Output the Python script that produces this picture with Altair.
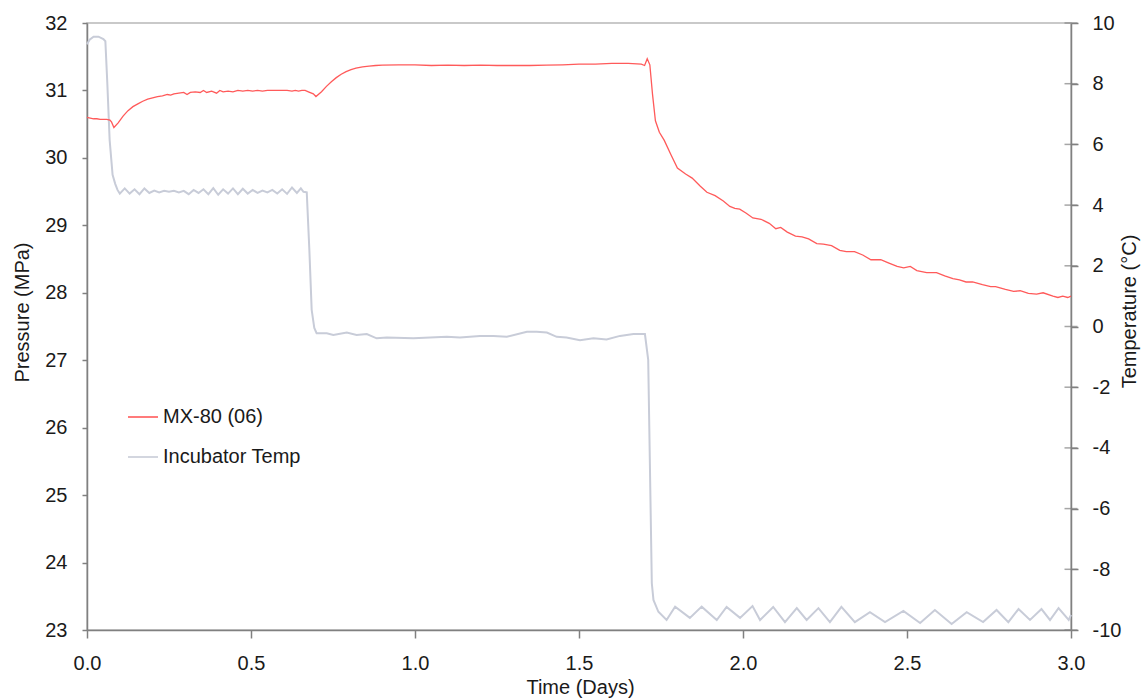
import altair as alt
import pandas as pd

# ---- Pressure series (MX-80 (06)), left axis, MPa ----
pressure_days = [
    0.000, 0.010, 0.020, 0.030, 0.040, 0.050, 0.060, 0.070, 0.075, 0.082,
    0.095, 0.110, 0.125, 0.140, 0.155, 0.170, 0.185, 0.200, 0.215, 0.230,
    0.245, 0.255, 0.265, 0.280, 0.295, 0.305, 0.315, 0.330, 0.345, 0.355,
    0.365, 0.380, 0.395, 0.405, 0.415, 0.430, 0.445, 0.460, 0.475, 0.490,
    0.505, 0.520, 0.535, 0.550, 0.570, 0.590, 0.610, 0.625, 0.635, 0.645,
    0.655, 0.665, 0.675, 0.690, 0.698, 0.715, 0.730, 0.745, 0.760, 0.775,
    0.790, 0.805, 0.820, 0.840, 0.860, 0.880, 0.900, 0.950, 1.000, 1.050,
    1.100, 1.150, 1.200, 1.250, 1.300, 1.350, 1.400, 1.450, 1.500, 1.550,
    1.600, 1.650, 1.690, 1.700, 1.708, 1.716, 1.724, 1.733, 1.745, 1.760,
    1.780, 1.800, 1.825, 1.845, 1.870, 1.890, 1.915, 1.940, 1.960, 1.975,
    1.990, 2.010, 2.030, 2.055, 2.080, 2.100, 2.115, 2.135, 2.160, 2.180,
    2.200, 2.225, 2.245, 2.270, 2.295, 2.315, 2.340, 2.365, 2.390, 2.420,
    2.445, 2.470, 2.490, 2.510, 2.530, 2.560, 2.590, 2.615, 2.640, 2.660,
    2.680, 2.700, 2.730, 2.755, 2.770, 2.800, 2.825, 2.845, 2.870, 2.895,
    2.915, 2.945, 2.960, 2.975, 2.990, 3.000,
]
pressure_mpa = [
    30.60, 30.59, 30.58, 30.58, 30.57, 30.57, 30.57, 30.56, 30.53, 30.45,
    30.52, 30.62, 30.70, 30.76, 30.80, 30.84, 30.87, 30.89, 30.91, 30.92,
    30.94, 30.93, 30.95, 30.96, 30.97, 30.94, 30.97, 30.98, 30.97, 31.00,
    30.97, 30.99, 30.96, 31.00, 30.98, 30.99, 30.98, 31.00, 30.99, 31.00,
    30.99, 31.00, 30.99, 31.00, 31.00, 31.00, 31.00, 30.99, 31.00, 30.99,
    31.00, 31.00, 30.98, 30.95, 30.91, 30.98, 31.06, 31.13, 31.19, 31.24,
    31.28, 31.31, 31.33, 31.35, 31.36, 31.37, 31.375, 31.38, 31.38, 31.37,
    31.375, 31.37, 31.375, 31.37, 31.37, 31.37, 31.375, 31.38, 31.39, 31.39,
    31.40, 31.40, 31.39, 31.37, 31.47, 31.38, 30.95, 30.55, 30.38, 30.26,
    30.05, 29.85, 29.76, 29.70, 29.58, 29.49, 29.44, 29.36, 29.28, 29.25,
    29.24, 29.18, 29.11, 29.09, 29.03, 28.95, 28.97, 28.90, 28.84, 28.83,
    28.80, 28.73, 28.72, 28.70, 28.63, 28.61, 28.61, 28.56, 28.49, 28.49,
    28.44, 28.39, 28.37, 28.39, 28.33, 28.30, 28.30, 28.25, 28.21, 28.19,
    28.16, 28.16, 28.12, 28.09, 28.09, 28.05, 28.02, 28.03, 27.99, 27.98,
    28.00, 27.95, 27.93, 27.95, 27.93, 27.95,
]

# ---- Incubator temperature, right axis, degC ----
temp_days = [
    0.000, 0.008, 0.020, 0.035, 0.050, 0.056, 0.062, 0.069, 0.078, 0.086,
    0.093, 0.100, 0.115, 0.130, 0.145, 0.160, 0.175, 0.190, 0.205, 0.220,
    0.235, 0.250, 0.265, 0.280, 0.295, 0.310, 0.325, 0.340, 0.355, 0.370,
    0.385, 0.400, 0.415, 0.430, 0.445, 0.460, 0.475, 0.490, 0.505, 0.520,
    0.535, 0.550, 0.565, 0.580, 0.595, 0.610, 0.625, 0.640, 0.652, 0.660,
    0.670, 0.678, 0.685, 0.693, 0.700, 0.731, 0.751, 0.792, 0.822, 0.853,
    0.883, 0.914, 0.995, 1.097, 1.137, 1.198, 1.239, 1.280, 1.341, 1.371,
    1.402, 1.432, 1.462, 1.503, 1.544, 1.584, 1.625, 1.666, 1.696, 1.701,
    1.711, 1.722, 1.727, 1.742, 1.767, 1.793, 1.838, 1.874, 1.920, 1.950,
    1.991, 2.029, 2.052, 2.092, 2.128, 2.164, 2.194, 2.230, 2.265, 2.300,
    2.341, 2.387, 2.433, 2.489, 2.540, 2.585, 2.636, 2.682, 2.732, 2.773,
    2.809, 2.840, 2.875, 2.910, 2.936, 2.962, 2.993, 3.000,
]
temp_c = [
    9.30, 9.45, 9.55, 9.55, 9.47, 9.40, 8.00, 6.15, 5.00, 4.70,
    4.50, 4.38, 4.55, 4.38, 4.52, 4.36, 4.55, 4.40, 4.48, 4.42,
    4.47, 4.44, 4.47, 4.42, 4.47, 4.36, 4.50, 4.40, 4.52, 4.36,
    4.56, 4.34, 4.52, 4.38, 4.55, 4.36, 4.54, 4.38, 4.50, 4.40,
    4.48, 4.42, 4.50, 4.38, 4.52, 4.37, 4.58, 4.40, 4.55, 4.44,
    4.42, 2.50, 0.55, -0.05, -0.22, -0.22, -0.28, -0.20, -0.28, -0.25,
    -0.39, -0.36, -0.39, -0.34, -0.36, -0.31, -0.31, -0.34, -0.17, -0.17,
    -0.20, -0.34, -0.36, -0.45, -0.39, -0.43, -0.31, -0.25, -0.25, -0.25,
    -1.10, -8.46, -9.01, -9.40, -9.67, -9.23, -9.60, -9.23, -9.67, -9.24,
    -9.60, -9.21, -9.67, -9.24, -9.74, -9.28, -9.67, -9.28, -9.74, -9.24,
    -9.74, -9.41, -9.74, -9.37, -9.77, -9.34, -9.80, -9.41, -9.74, -9.34,
    -9.74, -9.31, -9.67, -9.31, -9.67, -9.28, -9.67, -9.50,
]

# ---- axis tick values ----
x_ticks = [0, 0.5, 1, 1.5, 2, 2.5, 3]
pressure_ticks = [23, 24, 25, 26, 27, 28, 29, 30, 31, 32]
temp_ticks = [-10, -8, -6, -4, -2, 0, 2, 4, 6, 8, 10]

series_names = ["MX-80 (06)", "Incubator Temp"]
series_colors = ["#ff5a5a", "#c8ccd8"]

pressure_df = pd.DataFrame({"day": pressure_days, "value": pressure_mpa, "series": series_names[0]})
temp_df = pd.DataFrame({"day": temp_days, "value": temp_c, "series": series_names[1]})
temp_tick_df = pd.DataFrame({"value": temp_ticks})

FONT = "Liberation Sans"
AXIS_GRAY = "#808080"
PLOT_W, PLOT_H = 984, 607

color = alt.Color(
    "series:N",
    scale=alt.Scale(domain=series_names, range=series_colors),
    legend=alt.Legend(
        title=None,
        orient="none",
        legendX=40,
        legendY=378,
        symbolType="stroke",
        symbolSize=900,
        symbolStrokeWidth=1.6,
        labelFontSize=20,
        labelFont=FONT,
        labelColor="#1a1a1a",
        labelOffset=4,
        rowPadding=14,
        padding=0,
    ),
)

x_enc = alt.X(
    "day:Q",
    scale=alt.Scale(domain=[0, 3], nice=False),
    axis=alt.Axis(
        title="Time (Days)",
        values=x_ticks,
        format=".1f",
        tickSize=8,
        labelPadding=15,
        labelFlush=False,
        titleX=493,
        titleY=63,
        titleBaseline="alphabetic",
    ),
)

temp_y = alt.Y(
    "value:Q",
    scale=alt.Scale(domain=[-10, 10], nice=False),
    axis=alt.Axis(
        orient="right",
        title="Temperature (°C)",
        values=temp_ticks,
        labelExpr="'' + datum.value",
        tickSize=7,
        labelPadding=14,
        labelFlush=False,
        titleX=64,
        titleY=288,
        titleAngle=270,
        titleBaseline="alphabetic",
    ),
)

temp_line = alt.Chart(temp_df).mark_line(strokeWidth=2).encode(
    x=x_enc,
    y=temp_y,
    color=color,
    order=alt.Order("day:Q"),
)

# inner half of the crossing ticks on the right axis
temp_cross_ticks = alt.Chart(temp_tick_df).mark_tick(
    orient="horizontal", size=13, thickness=1.5, color=AXIS_GRAY
).encode(
    x=alt.value(PLOT_W),
    y=temp_y,
)

temp_layer = alt.layer(temp_line, temp_cross_ticks)

pressure_layer = alt.Chart(pressure_df).mark_line(strokeWidth=1.3).encode(
    x=x_enc,
    y=alt.Y(
        "value:Q",
        scale=alt.Scale(domain=[23, 32], nice=False),
        axis=alt.Axis(
            orient="left",
            title="Pressure (MPa)",
            values=pressure_ticks,
            tickSize=5,
            labelPadding=15,
            labelFlush=False,
            titleX=-59,
            titleY=289,
            titleAngle=270,
            titleBaseline="alphabetic",
        ),
    ),
    color=color,
    order=alt.Order("day:Q"),
)

chart = (
    alt.layer(temp_layer, pressure_layer)
    .resolve_scale(y="independent")
    .properties(
        width=PLOT_W,
        height=PLOT_H,
        autosize=alt.AutoSizeParams(type="none"),
        padding={"left": 87, "top": 23, "right": 71, "bottom": 68},
        background="white",
    )
    .configure_view(stroke="#b8b8b8", strokeWidth=1.5)
    .configure_axis(
        grid=False,
        domainColor=AXIS_GRAY,
        domainWidth=1.5,
        tickColor=AXIS_GRAY,
        tickWidth=1.5,
        labelFont=FONT,
        labelFontSize=20,
        labelColor="#1a1a1a",
        titleFont=FONT,
        titleFontSize=20,
        titleFontWeight="normal",
        titleColor="#1a1a1a",
    )
)

chart.save("out.html", embed_options={"renderer": "svg", "actions": False})
